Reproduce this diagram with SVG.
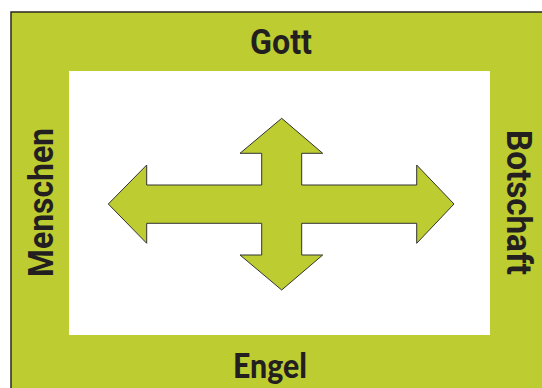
<svg xmlns="http://www.w3.org/2000/svg" width="542" height="388" viewBox="0 0 542 388">
<style>
.lbl{font-family:Roboto,"Liberation Sans",sans-serif;font-weight:700;fill:#231f20;text-anchor:middle}
</style>
<rect width="542" height="388" fill="#fff"/>
<g id="frame">
<rect x="11" y="12" width="560" height="400" fill="#bdcc30" stroke="#2a2a20" stroke-width="1.5"/>
<rect x="69" y="71" width="421" height="264" fill="#fff"/>
</g>
<g id="cross">
<path d="M281.7,118.3 L322.7,153.3 L301.7,153.3 L301.7,185 L416.7,185 L416.7,165 L454,204 L416.7,243.3 L416.7,223.3 L301.7,223.3 L301.7,255 L322.7,255 L281.7,290 L240,255 L261.7,255 L261.7,223.3 L146.7,223.3 L146.7,243.3 L108.3,204 L146.7,165 L146.7,185 L261.7,185 L261.7,153.3 L240,153.3 Z" fill="#bdcc30" stroke="#333" stroke-width="1"/>
</g>
<g id="gott"><text class="lbl" x="281" y="53.5" font-size="35" textLength="62" lengthAdjust="spacingAndGlyphs">Gott</text></g>
<g id="engel"><text class="lbl" x="270" y="378" font-size="35" textLength="74" lengthAdjust="spacingAndGlyphs" style="font-family:Lato,'Liberation Sans',sans-serif;font-weight:900">Engel</text></g>
<g id="menschen"><text class="lbl" transform="translate(53,202.5) rotate(-90)" font-size="35" textLength="149" lengthAdjust="spacingAndGlyphs">Menschen</text></g>
<g id="botschaft"><text class="lbl" transform="translate(507,202.5) rotate(90)" font-size="35" textLength="145" lengthAdjust="spacingAndGlyphs">Botschaft</text></g>
<g id="connectors"></g>
</svg>
